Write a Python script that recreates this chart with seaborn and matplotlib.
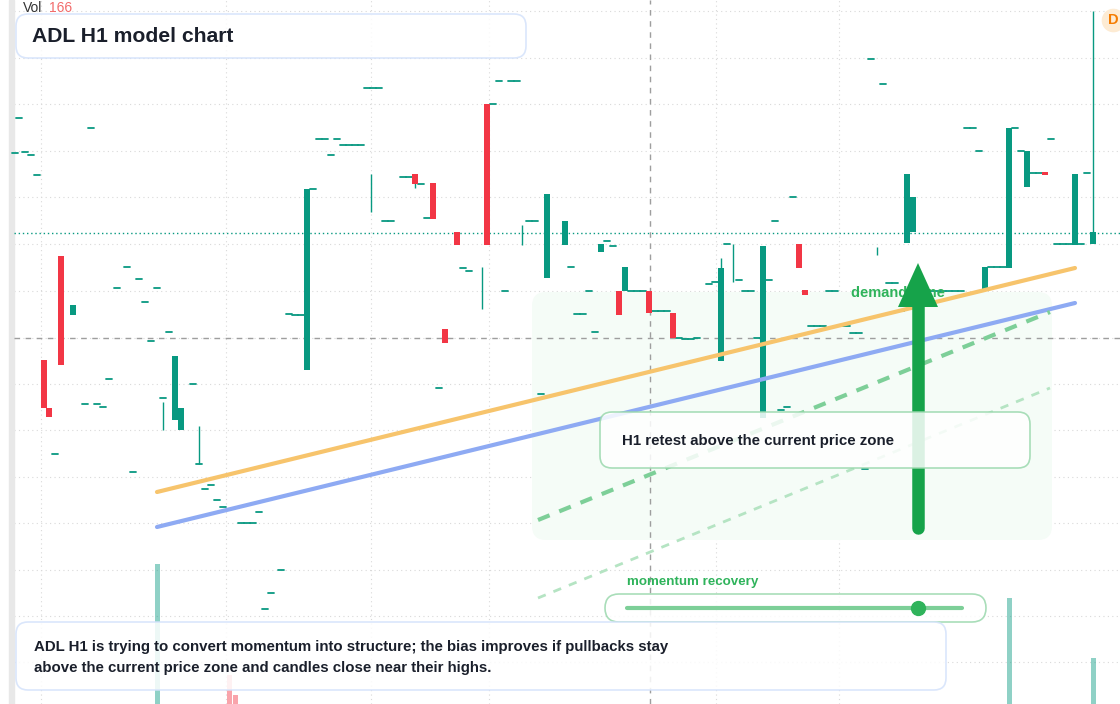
import seaborn as sns
import numpy as np
import pandas as pd
import matplotlib.pyplot as plt
from matplotlib.patches import FancyBboxPatch, Rectangle

# chart scale: x = bar slot, y = price level (axis inverted, top = high)
body_x     = [44, 49, 61, 73, 175, 181, 307, 445, 415, 433, 457, 487, 547, 565, 601, 625,
              619, 649, 673, 721, 763, 799, 805, 907, 913, 985, 1009, 1027, 1045, 1075, 1093]
body_top   = [360, 408, 256, 305, 356, 408, 189, 329, 174, 183, 232, 104, 194, 221, 244, 267,
              291, 291, 313, 268, 246, 244, 290, 174, 197, 267, 128, 151, 172, 174, 232]
body_bot   = [408, 417, 365, 315, 420, 430, 370, 343, 184, 219, 245, 245, 278, 245, 252, 291,
              315, 313, 338, 361, 418, 268, 295, 243, 232, 290, 268, 187, 175, 245, 244]
body_up    = ["n", "n", "n", "y", "y", "y", "y", "n", "n", "n", "n", "n", "y", "y", "y", "y",
              "n", "n", "n", "y", "y", "n", "n", "y", "y", "y", "y", "y", "n", "y", "y"]

wick_x   = [199, 371, 415, 482, 522, 721, 733, 877, 1093, 163]
wick_top = [426, 174, 174, 267, 225, 258, 244, 247, 11, 402]
wick_bot = [464, 212, 188, 309, 245, 268, 282, 255, 232, 430]

doji_x = [19, 25, 31, 37, 91, 15, 117, 127, 139, 145, 157, 169, 151, 109, 85, 97, 103, 55, 133,
          163, 193, 205, 211, 217, 223, 241, 247, 253, 259, 281, 271, 265, 289, 295, 301, 313,
          319, 325, 337, 331, 343, 349, 355, 361, 367, 373, 379, 385, 391, 403, 409, 421, 427,
          439, 463, 469, 499, 511, 517, 493, 505, 529, 535, 541, 571, 577, 583, 589, 595, 607,
          613, 631, 637, 643, 655, 661, 667, 679, 685, 691, 697, 709, 715, 727, 739, 745, 751,
          757, 769, 775, 781, 787, 793, 811, 817, 823, 829, 835, 841, 847, 853, 859, 865, 871,
          883, 889, 895, 901, 919, 925, 931, 937, 943, 949, 955, 961, 967, 973, 979, 991, 997,
          1003, 1015, 1021, 1033, 1039, 1051, 1057, 1063, 1069, 1081, 1087, 199]
doji_y = [118, 152, 155, 175, 128, 153, 288, 267, 279, 302, 288, 332, 341, 379, 404, 404, 407,
          454, 472, 398, 384, 489, 485, 500, 507, 523, 523, 523, 512, 570, 593, 609, 314, 315,
          315, 189, 139, 139, 139, 155, 145, 145, 145, 145, 88, 88, 88, 221, 221, 177, 177, 184,
          218, 388, 268, 271, 81, 81, 81, 104, 291, 221, 221, 394, 267, 314, 314, 291, 332, 241,
          246, 291, 291, 291, 311, 311, 311, 338, 339, 339, 338, 284, 282, 244, 280, 291, 291,
          338, 280, 221, 410, 407, 197, 326, 326, 326, 291, 291, 326, 326, 333, 333, 469, 59,
          84, 283, 283, 311, 291, 291, 291, 291, 291, 291, 291, 291, 128, 128, 151, 267, 267,
          267, 128, 151, 173, 173, 139, 244, 244, 244, 244, 173, 464]

vol_x   = [157, 229, 235, 1009, 1093]
vol_top = [564, 675, 695, 598, 658]
vol_up  = ["y", "n", "n", "y", "y"]

grid_y = [11, 58, 104, 151, 197, 244, 291, 338, 384, 430, 477, 523, 570, 616, 662]
grid_x = [41, 226, 371, 489, 716, 839]

ma_x      = [157, 1075]
ma_fast   = [492, 268]
ma_slow   = [527, 303]
proj_x    = [538, 1050]
proj_main = [520, 312]
proj_low  = [598, 388]

GREEN = "#089981"
RED = "#f23645"

sns.set_theme(style="white")
plt.rcParams["font.family"] = ["Liberation Sans", "DejaVu Sans"]

fig = plt.figure(figsize=(11.2, 7.04), dpi=100)
ax = fig.add_axes([0, 0, 1, 1])
ax.set_xlim(0, 1120)
ax.set_ylim(704, 0)
ax.axis("off")

for g in grid_y:
    ax.axhline(g, xmin=14 / 1120, color="#d9d9d9", lw=0.8, ls=(0, (1, 3)), zorder=0)
for g in grid_x:
    ax.axvline(g, color="#d9d9d9", lw=0.8, ls=(0, (1, 3)), zorder=0)
ax.add_patch(Rectangle((9, 0), 5, 704, color="#e8e8e8", zorder=0))

# demand zone
ax.add_patch(FancyBboxPatch((532, 292), 520, 248, boxstyle="round,pad=0,rounding_size=14",
                            fc="#f5fcf7", ec="none", zorder=0.5))

# volume
for x, t, u in zip(vol_x, vol_top, vol_up):
    ax.add_patch(Rectangle((x - 2.5, t), 5, 704 - t, color=GREEN if u == "y" else RED,
                           alpha=0.45, lw=0, zorder=1))

ax.axhline(233, xmin=14 / 1120, color=GREEN, lw=1, ls=(0, (1, 2)), zorder=1)
ax.axhline(338, xmin=14 / 1120, color="#9e9e9e", lw=1, ls=(0, (4, 4)), zorder=1)
ax.axvline(650, color="#9e9e9e", lw=1, ls=(0, (4, 4)), zorder=1)

# candles
ax.vlines(wick_x, wick_top, wick_bot, color=GREEN, lw=1, zorder=2)
for x, y in zip(doji_x, doji_y):
    ax.plot([x - 3, x + 3], [y, y], color=GREEN, lw=1.3, zorder=2)
for x, t, b, u in zip(body_x, body_top, body_bot, body_up):
    ax.add_patch(Rectangle((x - 3, t), 6, b - t, color=GREEN if u == "y" else RED, lw=0, zorder=2))

lines = pd.DataFrame({"x": ma_x * 2, "y": ma_fast + ma_slow, "s": ["fast"] * 2 + ["slow"] * 2})
sns.lineplot(data=lines, x="x", y="y", hue="s", palette={"fast": "#f7c46c", "slow": "#8eaaf3"},
             lw=3, legend=False, ax=ax, zorder=3)
ax.plot(proj_x, proj_main, color="#7dcf98", lw=3, ls=(0, (3, 2.5)), zorder=3)
ax.plot(proj_x, proj_low, color="#b5e4c3", lw=2, ls=(0, (3, 3)), zorder=3)

ax.text(851, 293, "demand zone", color="#2fb35b", fontsize=10.5, weight="bold", va="center", zorder=4)
ax.plot([918, 918], [300, 528], color="#16a34a", lw=9, solid_capstyle="round", zorder=5)
ax.arrow(918, 310, 0, -47, width=0.1, head_width=40, head_length=44, length_includes_head=True,
         color="#16a34a", lw=0, zorder=5)

def box(x, y, w, h, ec, r=12, fc="white", alpha=0.85):
    ax.add_patch(FancyBboxPatch((x, y), w, h, boxstyle=f"round,pad=0,rounding_size={r}",
                                fc=fc, ec=ec, lw=1.2, alpha=alpha, zorder=6))

box(600, 412, 430, 56, "#9ad8ad")
ax.text(622, 441, "H1 retest above the current price zone", fontsize=10.8, weight="bold",
        color="#1a1f2b", va="center", zorder=7)

ax.text(627, 582, "momentum recovery", fontsize=9.6, weight="bold", color="#2fb35b", va="center", zorder=7)
box(605, 594, 381, 28, "#9ad8ad", r=14)
ax.plot([627, 962], [608, 608], color="#7dcf98", lw=3, zorder=7)
ax.plot(918, 608, "o", color="#2fb35b", ms=10, zorder=8)

box(16, 622, 930, 68, "#d4e2fb")
ax.text(34, 647, "ADL H1 is trying to convert momentum into structure; the bias improves if pullbacks stay",
        fontsize=10.8, weight="bold", color="#1a1f2b", va="center", zorder=7)
ax.text(34, 668, "above the current price zone and candles close near their highs.",
        fontsize=10.8, weight="bold", color="#1a1f2b", va="center", zorder=7)

box(16, 14, 510, 44, "#d4e2fb")
ax.text(32, 36, "ADL H1 model chart", fontsize=15.2, weight="bold", color="#1a1f2b", va="center", zorder=7)

ax.text(23, 8, "Vol", fontsize=10, color="#333333", va="center", zorder=7)
ax.text(49, 8, "166", fontsize=10, color="#f26b6b", va="center", zorder=7)
ax.plot(1113, 20, "o", color="#fdebd3", ms=16, zorder=7)
ax.text(1108, 20, "D", fontsize=10.5, color="#f57c00", weight="bold", va="center", zorder=8)

fig.savefig("out.png", dpi=100)
